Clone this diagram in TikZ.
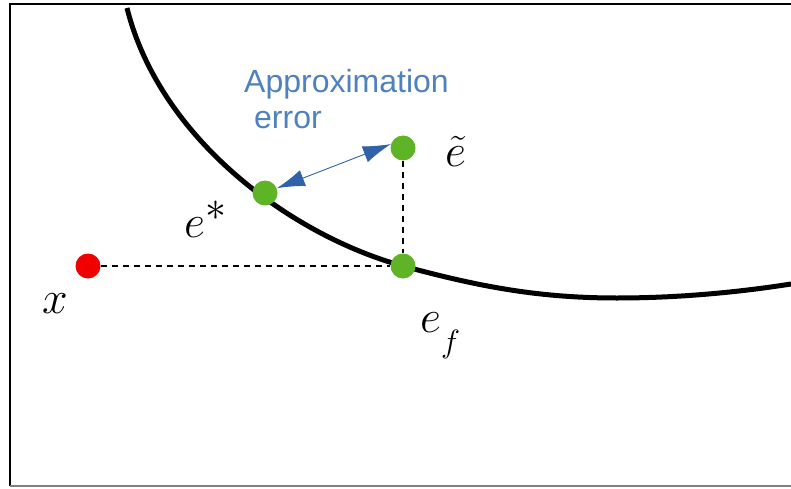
\documentclass[tikz,border=0pt]{standalone}
\usepackage{fix-cm}
\usepackage{xcolor}
\usepackage{amsmath,amssymb}
\usepackage{fontspec}
\newfontfamily\notefont{Liberation Sans}
\usetikzlibrary{arrows.meta}
\definecolor{dotgreen}{RGB}{94,180,38}
\definecolor{dotred}{RGB}{240,0,0}
\definecolor{noteblue}{RGB}{79,129,189}
\definecolor{arrblue}{RGB}{47,98,168}

\begin{document}
\begin{tikzpicture}[
  x=1pt, y=-1pt,
  dot/.style={circle, fill=#1, inner sep=0pt, minimum size=25pt},
  lbl/.style={inner sep=0pt, anchor=base west, font=\fontsize{46}{50}\selectfont},
  note/.style={align=left, inner sep=0pt, text=noteblue, font=\notefont\fontsize{32}{36}\selectfont},
  guide/.style={dash pattern=on 6pt off 5pt, line width=1.8pt},
  err/.style={{Latex[length=28pt,width=17pt]}-{Latex[length=28pt,width=17pt]}, arrblue, line width=0.9pt}
]
\useasboundingbox (0,0) rectangle (791,489);
% frame
\draw[line width=1.5pt] (10,486) -- (10,4) -- (791,4);
\draw[gray, line width=1.5pt] (10,486) -- (791,486);
% feasible set boundary
\draw[line width=5pt] (127,8) .. controls (160,140) and (293,236) .. (403,266)
  .. controls (480,287) and (540,298) .. (617,298)
  .. controls (680,298) and (740,292) .. (791,284);
% points
\node[dot=dotred] (x) at (88,266) {};
\node[dot=dotgreen] (ef) at (403,266) {};
\node[dot=dotgreen] (et) at (403,148) {};
\node[dot=dotgreen] (es) at (265,193) {};
\draw[guide] (x) -- (ef);
\draw[guide] (et) -- (ef);
\draw[err] (es.22) -- (et.162);
% labels
\node[lbl] (xl) at (42,313) {$x$};
\node[lbl] (esl) at (184,237) {$e^{\scalebox{1.3}{$\scriptstyle *$}}$};
\node[lbl] (etl) at (445,167) {$\tilde{e}$};
\node[lbl] (efl) at (420,332) {$e_{\raisebox{-0.3em}{$\scriptstyle f$}}$};
\node[note, anchor=north west] (note) at (244,69) {Approximation\\\hspace*{10pt}error};
\end{tikzpicture}
\end{document}
